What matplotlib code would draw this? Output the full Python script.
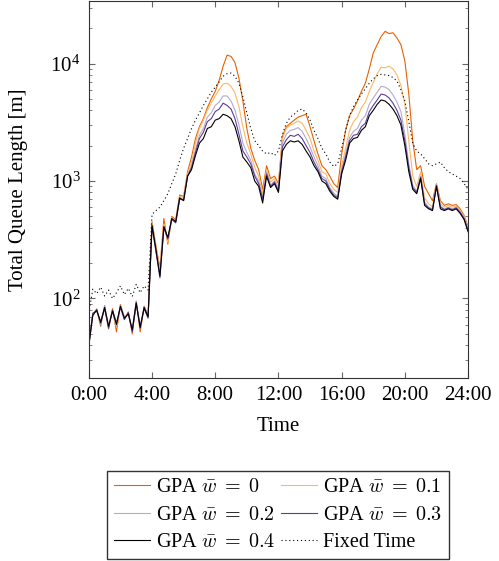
import numpy as np
import matplotlib.pyplot as plt
from matplotlib.ticker import FixedLocator, LogLocator, NullFormatter

plt.rcParams['font.family'] = ['Liberation Serif', 'DejaVu Serif']
plt.rcParams['mathtext.fontset'] = 'cm'

# time in hours, 15 minute steps
hours = np.arange(97) / 4.0

gpa_w0 = [40, 74, 81, 58, 87, 55, 82, 52, 89, 67, 77, 50, 95, 52, 86, 72,
          450, 280, 180, 480, 290, 500, 470, 760, 740, 1200,
          1600, 2300, 2900, 3400, 4200, 5000, 5800, 7200, 9500, 11800, 11500, 10200, 7500, 4800,
          2800, 1900, 1500, 1250, 850, 1350, 1050, 1100, 950, 2400, 2900, 3100, 3300, 3500,
          3600, 3700, 2900, 2200, 1700, 1350, 1250, 1100, 950, 880, 1700, 2700, 3600, 4100,
          4800, 5800, 6800, 9000, 12300, 14500, 17000, 18800, 18000, 18300, 16500, 14500,
          10500, 5500, 2200, 1250, 1350, 900, 780, 680, 950, 680, 620, 640, 620, 630, 580, 510, 410]

gpa_w01 = [40, 73, 79, 63, 85, 59, 80, 57, 85, 69, 75, 53, 91, 55, 83, 69,
           440, 270, 175, 430, 300, 490, 460, 740, 720, 1150,
           1450, 2100, 2800, 3300, 4000, 4600, 5300, 6000, 6700, 6800, 6400, 5600, 4300, 2900,
           2100, 1700, 1300, 1100, 780, 1250, 980, 1050, 880, 2300, 2800, 3000, 3100, 3250,
           3100, 2700, 2300, 1800, 1500, 1200, 1150, 950, 850, 800, 1350, 1900, 2700, 3200,
           3500, 4200, 4700, 5800, 6900, 8200, 9300, 9200, 9500, 9000, 8000, 6500,
           4500, 2200, 1100, 900, 1200, 720, 640, 600, 950, 640, 600, 620, 600, 610, 560, 500, 400]

gpa_w02 = [40, 70, 82, 60, 86, 57, 79, 58, 88, 70, 73, 55, 94, 57, 85, 71,
           415, 255, 160, 405, 325, 475, 455, 710, 700, 1100,
           1350, 1850, 2450, 2800, 3500, 3800, 4400, 4700, 5300, 5300, 4800, 4000, 3000, 2100,
           1750, 1500, 1150, 1000, 720, 1180, 920, 1000, 840, 2100, 2500, 2700, 2750, 2850,
           2650, 2300, 1950, 1600, 1350, 1100, 1050, 880, 790, 740, 1250, 1700, 2350, 2650,
           2800, 3300, 3600, 4500, 5100, 5700, 6400, 6300, 6000, 5400, 4700, 3900,
           2500, 1400, 920, 820, 1100, 660, 600, 580, 930, 610, 580, 600, 580, 600, 550, 490, 390]

gpa_w03 = [40, 75, 78, 64, 82, 56, 80, 62, 84, 66, 76, 52, 90, 58, 82, 68,
           410, 250, 150, 400, 320, 470, 440, 700, 690, 1100,
           1300, 1750, 2300, 2600, 3200, 3400, 3900, 4100, 4600, 4400, 4100, 3400, 2500, 1800,
           1600, 1400, 1100, 950, 700, 1150, 900, 980, 820, 1950, 2250, 2450, 2400, 2500,
           2300, 2000, 1750, 1450, 1250, 1050, 1000, 850, 760, 720, 1200, 1600, 2200, 2450,
           2500, 2900, 3100, 3900, 4400, 4900, 5500, 5400, 5100, 4600, 4000, 3300,
           2200, 1300, 880, 800, 1080, 640, 590, 570, 920, 600, 570, 590, 570, 590, 540, 480, 380]

gpa_w04 = [40, 72, 80, 62, 84, 58, 78, 60, 86, 68, 74, 54, 92, 56, 84, 70,
           420, 260, 155, 410, 330, 480, 450, 720, 680, 1100,
           1250, 1650, 2100, 2300, 2800, 2900, 3300, 3400, 3700, 3600, 3400, 2900, 2200, 1600,
           1450, 1300, 1000, 900, 650, 1100, 880, 950, 800, 1800, 2050, 2200, 2150, 2200,
           2050, 1800, 1600, 1350, 1200, 1000, 950, 820, 740, 700, 1150, 1500, 2100, 2300,
           2350, 2700, 2900, 3600, 4000, 4500, 4900, 4800, 4500, 4100, 3600, 3000,
           2000, 1200, 850, 780, 1050, 620, 580, 560, 900, 580, 560, 580, 560, 580, 530, 470, 370]

fixed_time = [75, 120, 110, 125, 105, 118, 100, 112, 128, 108, 122, 104, 132, 112, 128, 118,
              520, 560, 600, 680, 780, 950, 1150, 1500, 1900, 2300,
              2800, 3300, 3800, 4400, 5000, 5700, 6300, 7000, 7800, 8200, 8300, 7800, 6800, 5200,
              3800, 2800, 2200, 2000, 1800, 1700, 1750, 1650, 1800, 2500, 3100, 3500, 3700, 4000,
              4100, 3800, 3300, 2700, 2300, 1900, 1700, 1450, 1330, 1400, 1900, 2700, 3600, 4300,
              4900, 5500, 6100, 6800, 7400, 7900, 8100, 8000, 7900, 7600, 7100, 6000,
              4800, 3200, 2100, 1800, 1700, 1550, 1400, 1350, 1400, 1450, 1300, 1200, 1150, 1100,
              1050, 950, 850]

series = [
    (gpa_w0, '#e66101', '-', r'GPA $\bar{w}\;=\;0$'),
    (gpa_w01, '#fdb863', '-', r'GPA $\bar{w}\;=\;0.1$'),
    (gpa_w02, '#b2abd2', '-', r'GPA $\bar{w}\;=\;0.2$'),
    (gpa_w03, '#5e3c99', '-', r'GPA $\bar{w}\;=\;0.3$'),
    (gpa_w04, 'black', '-', r'GPA $\bar{w}\;=\;0.4$'),
    (fixed_time, 'black', (0, (1, 2.5)), 'Fixed Time'),
]

fig = plt.figure(figsize=(4.99, 5.61), dpi=100)
ax = fig.add_axes([0.178, 0.326, 0.760, 0.672])

lines = []
for vals, col, ls, lab in series:
    ln, = ax.plot(hours, vals, color=col, linestyle=ls, linewidth=0.8, label=lab)
    lines.append(ln)

ax.set_yscale('log')
ax.set_xlim(0, 24)
ax.set_ylim(21, 34000)
ax.xaxis.set_major_locator(FixedLocator([0, 4, 8, 12, 16, 20, 24]))
ax.set_xticklabels(['0:00', '4:00', '8:00', '12:00', '16:00', '20:00', '24:00'])
ax.yaxis.set_minor_locator(LogLocator(base=10, subs=np.arange(2, 10)))
ax.yaxis.set_minor_formatter(NullFormatter())
ax.tick_params(which='both', direction='in', top=True, right=True, color='#666666',
               labelsize=15, pad=6)
ax.tick_params(which='major', length=4.5)
ax.tick_params(which='minor', length=2.5)
for s in ax.spines.values():
    s.set_color('#333333')
    s.set_linewidth(0.8)

ax.set_xlabel('Time', fontsize=15, labelpad=8)
ax.set_ylabel('Total Queue Length [m]', fontsize=15, labelpad=16)

# legend filled row by row: w0, w0.1 / w0.2, w0.3 / w0.4, fixed
order = [0, 2, 4, 1, 3, 5]
fig.legend([lines[i] for i in order], [series[i][3] for i in order],
           loc='lower center', bbox_to_anchor=(0.557, 0.003), ncol=2, fontsize=14.5,
           frameon=True, fancybox=False, edgecolor='black', handlelength=1.8,
           columnspacing=0.25, handletextpad=0.3, labelspacing=0.42, borderpad=0.35,
           borderaxespad=0)

fig.savefig('out.png', dpi=100)
